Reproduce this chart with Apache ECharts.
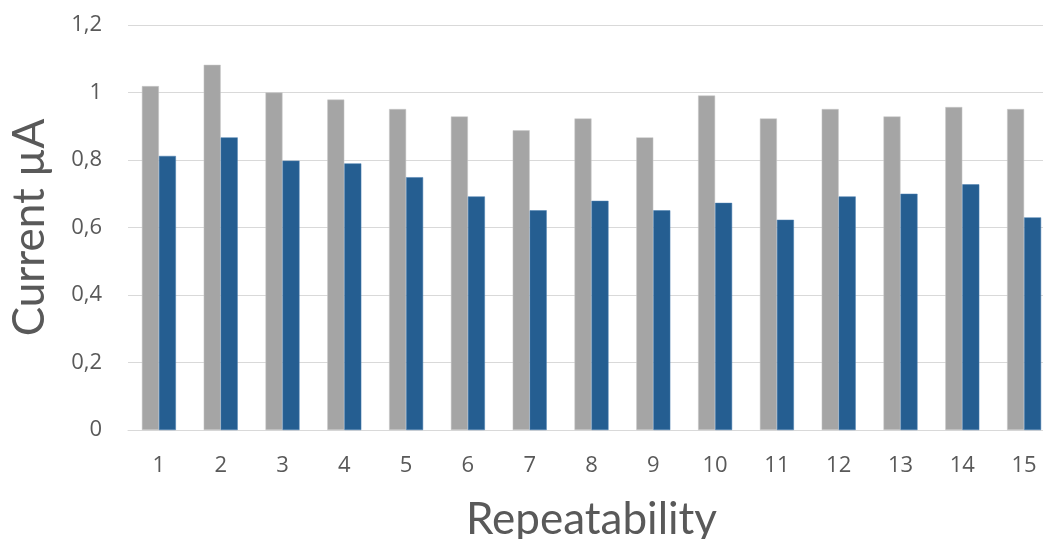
<!DOCTYPE html>
<html>
<head>
<meta charset="utf-8">
<script src="https://cdn.jsdelivr.net/npm/echarts@6/dist/echarts.min.js"></script>
<style>
  html, body { margin: 0; padding: 0; background: #fff; }
  #chart { width: 1043px; height: 539px; }
</style>
</head>
<body>
<div id="chart"></div>
<script>
// Repeatability runs and measured currents (µA)
const categories = ['1','2','3','4','5','6','7','8','9','10','11','12','13','14','15'];
const seriesGray = [1.019, 1.082, 1.0, 0.979, 0.951, 0.929, 0.888, 0.923, 0.867, 0.991, 0.923, 0.951, 0.929, 0.957, 0.951];
const seriesBlue = [0.812, 0.867, 0.798, 0.790, 0.749, 0.692, 0.651, 0.679, 0.651, 0.673, 0.623, 0.692, 0.700, 0.728, 0.630];
const yMin = 0, yMax = 1.2, yStep = 0.2;

const FONT = '"Open Sans", "Liberation Sans", sans-serif';
const TITLE_FONT = 'Lato, "Open Sans", sans-serif';
const TEXT = '#595959';
const GRID = '#D9D9D9';

const chart = echarts.init(document.getElementById('chart'), null, { renderer: 'canvas' });
chart.setOption({
  animation: false,
  backgroundColor: '#ffffff',
  grid: { left: 128, top: 25, right: -12, bottom: 109, containLabel: false, outerBoundsMode: 'none' },
  xAxis: {
    type: 'category',
    data: categories,
    name: 'Repeatability',
    nameLocation: 'middle',
    nameGap: 68,
    nameTextStyle: { fontFamily: TITLE_FONT, fontSize: 44, color: TEXT },
    axisLine: { lineStyle: { color: GRID, width: 1 } },
    axisTick: { show: false },
    axisLabel: { fontFamily: FONT, fontSize: 22, color: TEXT, margin: 25 }
  },
  yAxis: {
    type: 'value',
    min: yMin, max: yMax, interval: yStep,
    name: 'Current µA',
    nameLocation: 'middle',
    nameGap: 76,
    nameTextStyle: { fontFamily: TITLE_FONT, fontSize: 44, color: TEXT },
    axisLine: { show: false },
    axisTick: { show: false },
    splitLine: { lineStyle: { color: GRID, width: 1 } },
    axisLabel: {
      fontFamily: FONT, fontSize: 22, color: TEXT, margin: 26,
      formatter: v => String(Math.round(v * 10) / 10).replace('.', ',')
    }
  },
  series: [
    {
      type: 'bar', data: seriesGray, barWidth: 17, barGap: '0%',
      itemStyle: { color: '#A5A5A5', borderColor: '#C8C8C8', borderWidth: 0.5 }
    },
    {
      type: 'bar', data: seriesBlue, barWidth: 17, barGap: '0%',
      itemStyle: { color: '#255E91', borderColor: '#4A7FB0', borderWidth: 0.5 }
    }
  ]
});
</script>
</body>
</html>
